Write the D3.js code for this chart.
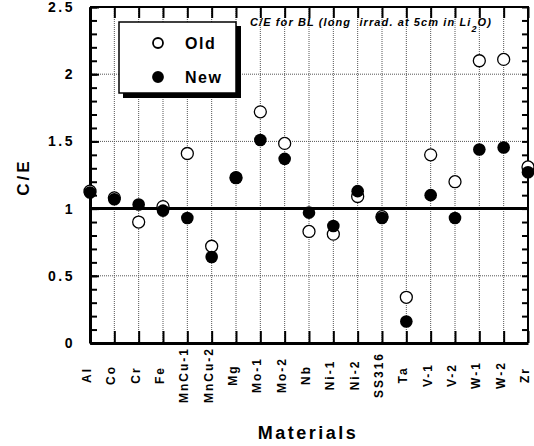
<!DOCTYPE html>
<html>
<head>
<meta charset="utf-8">
<script src="https://cdn.jsdelivr.net/npm/d3@7"></script>
<style>
  body { margin: 0; background: #fff; }
  text { font-family: "Liberation Sans", Arial, sans-serif; font-weight: bold; }
</style>
</head>
<body>
<div id="viz"></div>
<script>
const width = 534;
const height = 446;
const margin = {top: 7, right: 6, bottom: 103, left: 90};

// Materials on the x axis
const materials = ['Al', 'Co', 'Cr', 'Fe', 'MnCu-1', 'MnCu-2', 'Mg', 'Mo-1', 'Mo-2', 'Nb',
  'Ni-1', 'Ni-2', 'SS316', 'Ta', 'V-1', 'V-2', 'W-1', 'W-2', 'Zr'];
// C/E values
const oldValues = [1.13, 1.08, 0.90, 1.015, 1.41, 0.72, 1.23, 1.72, 1.485, 0.83,
  0.81, 1.09, 0.94, 0.34, 1.40, 1.20, 2.10, 2.11, 1.31];
const newValues = [1.12, 1.07, 1.03, 0.985, 0.93, 0.64, 1.23, 1.51, 1.37, 0.97,
  0.87, 1.13, 0.93, 0.16, 1.10, 0.93, 1.44, 1.455, 1.27];
const yTicks = [0, 0.5, 1, 1.5, 2, 2.5];
const yTickLabels = ['0', '0.5', '1', '1.5', '2', '2.5'];
const gridValues = [0.5, 1.5, 2];
const minorTicks = [0, 0.1, 0.2, 0.3, 0.4, 0.5, 0.6, 0.7, 0.8, 0.9, 1, 1.1, 1.2, 1.3,
  1.4, 1.5, 1.6, 1.7, 1.8, 1.9, 2, 2.1, 2.2, 2.3, 2.4, 2.5];

const x = d3.scalePoint()
  .domain(materials)
  .range([margin.left, width - margin.right])
  .padding(0);

const y = d3.scaleLinear()
  .domain([0, 2.5])
  .range([height - margin.bottom, margin.top]);

const svg = d3.select('#viz')
  .append('svg')
    .attr('width', width)
    .attr('height', height);

const [fx0, fx1] = x.range();
const fy0 = y(2.5), fy1 = y(0);

// dotted grid
svg.append('g')
  .selectAll('line')
  .data(materials)
  .join('line')
    .attr('x1', d => x(d)).attr('x2', d => x(d))
    .attr('y1', fy0).attr('y2', fy1)
    .attr('stroke', '#555')
    .attr('stroke-width', 1)
    .attr('stroke-dasharray', '1,1');

svg.append('g')
  .selectAll('line')
  .data(gridValues)
  .join('line')
    .attr('x1', fx0).attr('x2', fx1)
    .attr('y1', d => y(d)).attr('y2', d => y(d))
    .attr('stroke', '#555')
    .attr('stroke-width', 1)
    .attr('stroke-dasharray', '1,1');

// reference line C/E = 1
svg.append('line')
  .attr('x1', fx0).attr('x2', fx1)
  .attr('y1', y(1)).attr('y2', y(1))
  .attr('stroke', '#000')
  .attr('stroke-width', 3);

// frame (top and right)
svg.append('path')
  .attr('d', `M${fx0},${fy0}H${fx1}V${fy1}`)
  .attr('fill', 'none')
  .attr('stroke', '#000')
  .attr('stroke-width', 2);

// axes, ticks pointing inwards
svg.append('g')
  .attr('transform', `translate(0,${fy1})`)
  .call(d3.axisBottom(x).tickSize(-12).tickFormat('').tickSizeOuter(0))
  .call(g => g.select('.domain').attr('stroke-width', 3));

svg.append('g')
  .attr('transform', `translate(0,${fy0})`)
  .call(d3.axisTop(x).tickSize(-11).tickFormat('').tickSizeOuter(0))
  .call(g => g.select('.domain').remove());

svg.append('g')
  .attr('transform', `translate(${fx1},0)`)
  .call(d3.axisRight(y).tickValues(minorTicks).tickSize(-6).tickFormat('').tickSizeOuter(0))
  .call(g => g.select('.domain').remove());

svg.append('g')
  .attr('transform', `translate(${fx0},0)`)
  .call(d3.axisLeft(y).tickValues(minorTicks).tickSize(-7).tickFormat('').tickSizeOuter(0))
  .call(g => g.select('.domain').attr('stroke-width', 3));

svg.append('g')
  .attr('class', 'y-axis')
  .attr('transform', `translate(${fx0},0)`)
  .call(d3.axisLeft(y)
    .tickValues(yTicks)
    .tickSize(-9)
    .tickPadding(15)
    .tickSizeOuter(0)
    .tickFormat((d, i) => yTickLabels[i]))
  .call(g => g.select('.domain').remove())
  .call(g => g.selectAll('text')
    .attr('fill', '#000')
    .attr('font-size', 14)
    .attr('font-family', 'Liberation Sans, Arial, sans-serif')
    .attr('font-weight', 'bold')
    .attr('letter-spacing', 2.5));

svg.selectAll('.tick line').attr('stroke-width', 2).attr('stroke', '#000');

// data points: old (open) first, new (filled) on top
svg.append('g')
  .selectAll('circle')
  .data(materials)
  .join('circle')
    .attr('cx', d => x(d))
    .attr('cy', (d, i) => y(oldValues[i]))
    .attr('r', 6)
    .attr('fill', '#fff')
    .attr('stroke', '#000')
    .attr('stroke-width', 1.3);

svg.append('g')
  .selectAll('circle')
  .data(materials)
  .join('circle')
    .attr('cx', d => x(d))
    .attr('cy', (d, i) => y(newValues[i]))
    .attr('r', 6.3)
    .attr('fill', '#000');

// x labels, rotated
svg.append('g')
  .selectAll('text')
  .data(materials)
  .join('text')
    .attr('transform', d => `translate(${x(d) + 1},375) rotate(-90)`)
    .attr('text-anchor', 'middle')
    .attr('font-size', 12)
    .attr('letter-spacing', 2)
    .text(d => d);

// axis titles
svg.append('text')
  .attr('transform', 'translate(29,177) rotate(-90)')
  .attr('text-anchor', 'middle')
  .attr('font-size', 17)
  .attr('letter-spacing', 3)
  .text('C/E');

svg.append('text')
  .attr('x', 308)
  .attr('y', 439)
  .attr('text-anchor', 'middle')
  .attr('font-size', 18)
  .attr('letter-spacing', 2.5)
  .text('Materials');

// chart note
const note = svg.append('text')
  .attr('x', 250)
  .attr('y', 26)
  .attr('font-size', 11)
  .attr('font-style', 'italic')
  .attr('letter-spacing', 1.1);
note.append('tspan').text('C/E for BL (long\u00a0\u00a0irrad. at 5cm in Li');
note.append('tspan').attr('dy', 6).attr('font-size', 9).text('2');
note.append('tspan').attr('dy', -6).text('O)');

// legend box with shadow
const legend = svg.append('g').attr('transform', 'translate(119,22)');
legend.append('rect')
  .attr('x', 4).attr('y', 4).attr('width', 118).attr('height', 72)
  .attr('fill', '#000');
legend.append('rect')
  .attr('x', 0).attr('y', 0).attr('width', 117).attr('height', 71)
  .attr('fill', '#fff').attr('stroke', '#000').attr('stroke-width', 1.5);

const legendItems = [
  {label: 'Old', fill: '#fff'},
  {label: 'New', fill: '#000'}
];
const li = legend.selectAll('g.item')
  .data(legendItems)
  .join('g')
    .attr('class', 'item')
    .attr('transform', (d, i) => `translate(0,${21 + i * 34})`);
li.append('circle')
  .attr('cx', 39).attr('cy', 0).attr('r', 5)
  .attr('fill', d => d.fill)
  .attr('stroke', '#000').attr('stroke-width', 1.8);
li.append('text')
  .attr('x', 66).attr('y', 6)
  .attr('font-size', 16)
  .attr('letter-spacing', 1.5)
  .text(d => d.label);
</script>
</body>
</html>
